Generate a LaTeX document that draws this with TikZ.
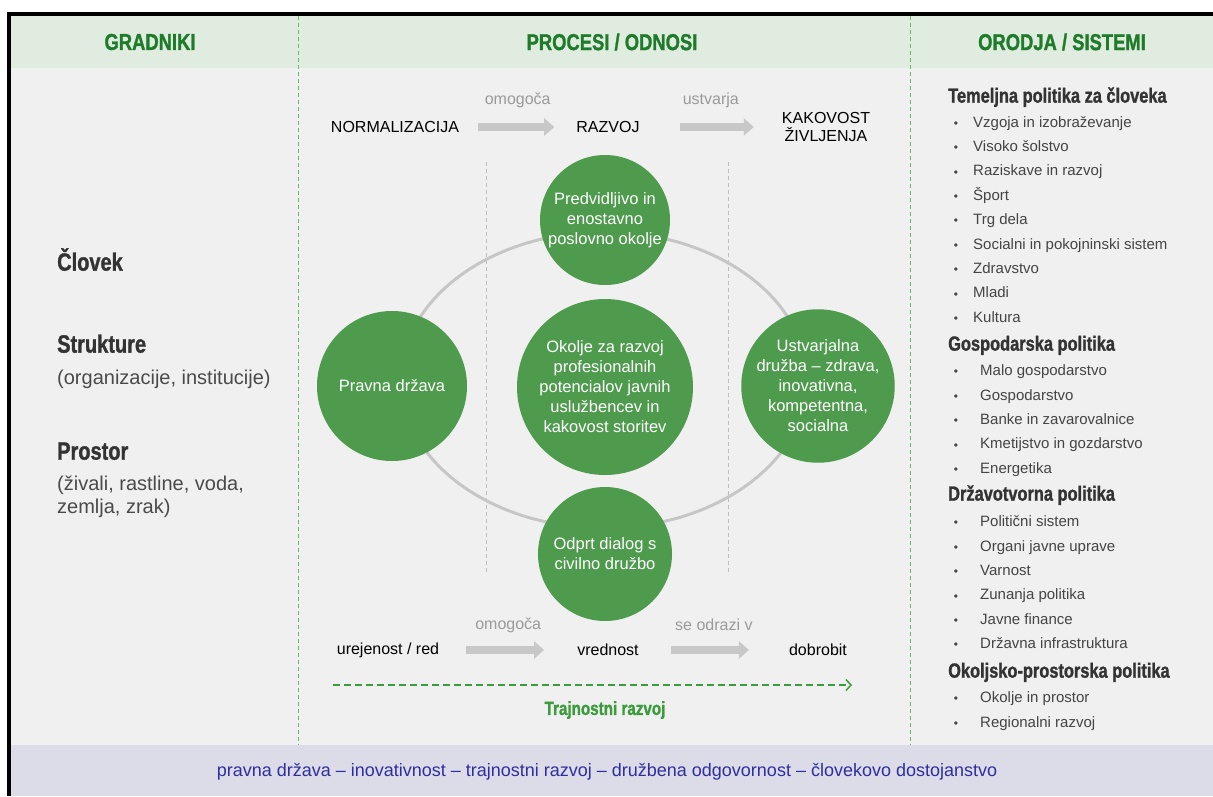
\documentclass[tikz,border=0pt]{standalone}
\usepackage{fontspec}
\setmainfont{Liberation Sans}
\newfontfamily\heavyfont{Liberation Sans Bold}[FakeStretch=0.8,FakeBold=1.2]
\usepackage{tikz}
\usetikzlibrary{arrows.meta,positioning}

\definecolor{hdgreen}{HTML}{1E7B2A}
\definecolor{bandgreen}{HTML}{E1ECE0}
\definecolor{bodygray}{HTML}{F0F0F0}
\definecolor{footband}{HTML}{DCDCE9}
\definecolor{colline}{HTML}{6DB56D}
\definecolor{innergray}{HTML}{BDBDBD}
\definecolor{ringgray}{HTML}{C6C6C6}
\definecolor{bubblegreen}{HTML}{4E9B4E}
\definecolor{arrowgray}{HTML}{C8C8C8}
\definecolor{labelgray}{HTML}{9A9A9A}
\definecolor{darktext}{HTML}{333333}
\definecolor{desctext}{HTML}{4A4A4A}
\definecolor{itemgray}{HTML}{444444}
\definecolor{mottoblue}{HTML}{2E2E9E}
\definecolor{trendgreen}{HTML}{3C9B3C}

\begin{document}
\begin{tikzpicture}[x=1pt,y=-1pt,
	colhead/.style={font=\heavyfont\fontsize{23}{25}\selectfont,text=hdgreen},
	blockhead/.style={font=\heavyfont\fontsize{25}{27}\selectfont,text=darktext,anchor=mid west,inner sep=0},
	blocktext/.style={font=\fontsize{20}{23}\selectfont,text=desctext,anchor=mid west,inner sep=0,align=left},
	flowtext/.style={font=\fontsize{16}{17.5}\selectfont,text=black,inner sep=0},
	flowlabel/.style={font=\fontsize{16}{17}\selectfont,text=labelgray,inner sep=0},
	flowarrow/.style={draw=arrowgray,line width=8pt,-{Triangle[length=10pt,width=17pt]}},
	bubble/.style={circle,fill=bubblegreen,text=white,align=center,inner sep=0,font=\fontsize{16.5}{20}\selectfont},
	polhead/.style={font=\heavyfont\fontsize{20.5}{22}\selectfont,text=darktext,anchor=mid west,inner sep=0},
	politem/.style={font=\fontsize{15}{16}\selectfont,text=itemgray,anchor=mid west,inner sep=0},
	polbullet/.style={font=\fontsize{12}{14}\selectfont,text=itemgray,inner sep=0},
	coldash/.style={draw=colline,line width=0.8pt,dash pattern=on 4pt off 3pt},
	innerdash/.style={draw=innergray,line width=0.8pt,dash pattern=on 4pt off 3pt},
	trendarrow/.style={draw=trendgreen,line width=1.5pt,dash pattern=on 7pt off 4pt,-{Straight Barb[length=5pt,width=11pt]}}]

	\useasboundingbox[fill=white] (0,0) rectangle (1213,796);

	\fill[bodygray] (9,14) rectangle (1213,796);
	\fill[bandgreen] (9,14) rectangle (1213,68);
	\fill[footband] (9,745) rectangle (1213,796);
	\draw[line width=4pt] (9,796) -- (9,14) -- (1213,14);

	\draw[coldash] (298,16) -- (298,745);
	\draw[coldash] (910,16) -- (910,745);

	\node[colhead] (hgrad) at (150,42) {GRADNIKI};
	\node[colhead] (hproc) at (612,42) {PROCESI / ODNOSI};
	\node[colhead] (horod) at (1062,42) {ORODJA / SISTEMI};

	\node[blockhead] (clovek) at (57,268) {Človek};
	\node[blockhead] (strukture) at (57,350) {Strukture};
	\node[blocktext] (strukdesc) at (57,382) {(organizacije, institucije)};
	\node[blockhead] (prostor) at (57,457) {Prostor};
	\node[blocktext,anchor=west] (prostordesc) at (57,497) {(živali, rastline, voda,\\zemlja, zrak)};

	\node[flowtext] (norm) at (395,127) {NORMALIZACIJA};
	\node[flowtext] (razvoj) at (608,127) {RAZVOJ};
	\node[flowtext,align=center] (kakovost) at (826,127) {KAKOVOST\\ŽIVLJENJA};
	\draw[flowarrow,shorten <=19pt,shorten >=22pt] (norm) -- (razvoj) node[flowlabel,midway,yshift=27pt] (lblomog) {omogoča};
	\draw[flowarrow,shorten <=40pt,shorten >=28pt] (razvoj) -- (kakovost) node[flowlabel,midway,yshift=27pt] (lblustv) {ustvarja};

	\draw[innerdash] (486,162) -- (486,575);
	\draw[innerdash] (728,162) -- (728,575);

	\draw[ringgray,line width=3pt] (604,380) ellipse [x radius=203,y radius=148];

	\node[bubble,minimum size=130pt] (okolje) at (605,220) {Predvidljivo in\\enostavno\\poslovno okolje};
	\node[bubble,minimum size=150pt] (pravna) at (392,386) {Pravna država};
	\node[bubble,minimum size=176pt] (razvojkadrov) at (605,387) {Okolje za razvoj\\profesionalnih\\potencialov javnih\\uslužbencev in\\kakovost storitev};
	\node[bubble,minimum size=148pt] (druzba) at (818,386) {Ustvarjalna\\družba -- zdrava,\\inovativna,\\kompetentna,\\socialna};
	\node[bubble,minimum size=134pt] (dialog) at (605,554) {Odprt dialog s\\civilno družbo};

	\node[flowtext] (red) at (388,650) {urejenost / red};
	\node[flowtext] (vrednost) at (608,650) {vrednost};
	\node[flowtext] (dobrobit) at (818,650) {dobrobit};
	\draw[flowarrow,shorten <=27pt,shorten >=33pt] (red) -- (vrednost) node[flowlabel,midway,yshift=25pt] (lblomog2) {omogoča};
	\draw[flowarrow,shorten <=32pt,shorten >=40pt] (vrednost) -- (dobrobit) node[flowlabel,midway,yshift=25pt] (lblodraz) {se odrazi v};

	\coordinate (trendstart) at (333,685);
	\coordinate (trendend) at (852,685);
	\draw[trendarrow] (trendstart) -- (trendend);
	\node[font=\heavyfont\fontsize{19}{21}\selectfont,text=trendgreen] (trajn) at (605,710) {Trajnostni razvoj};

	\node[polhead] (temeljna) at (948,100) {Temeljna politika za človeka};
	\foreach \item [count=\i] in {Vzgoja in izobraževanje,Visoko šolstvo,Raziskave in razvoj,Šport,Trg dela,Socialni in pokojninski sistem,Zdravstvo,Mladi,Kultura}{
		\node[polbullet] (tembul\i) at (956,100+24.4*\i) {•};
		\node[politem] (tem\i) at (973,100+24.4*\i) {\item};
	}

	\node[polhead] (gospodarska) at (948,348) {Gospodarska politika};
	\foreach \item [count=\i] in {Malo gospodarstvo,Gospodarstvo,Banke in zavarovalnice,Kmetijstvo in gozdarstvo,Energetika}{
		\node[polbullet] (gosbul\i) at (956,348.6+24.4*\i) {•};
		\node[politem] (gos\i) at (980,348.6+24.4*\i) {\item};
	}

	\node[polhead] (drzavotvorna) at (948,498) {Državotvorna politika};
	\foreach \item [count=\i] in {Politični sistem,Organi javne uprave,Varnost,Zunanja politika,Javne finance,Državna infrastruktura}{
		\node[polbullet] (drzbul\i) at (956,499.6+24.4*\i) {•};
		\node[politem] (drz\i) at (980,499.6+24.4*\i) {\item};
	}

	\node[polhead] (okoljska) at (948,675) {Okoljsko-prostorska politika};
	\foreach \item [count=\i] in {Okolje in prostor,Regionalni razvoj}{
		\node[polbullet] (okobul\i) at (956,675+25*\i) {•};
		\node[politem] (oko\i) at (980,675+25*\i) {\item};
	}

	\node[font=\fontsize{18}{20}\selectfont,text=mottoblue] (motto) at (607,772) {pravna država -- inovativnost -- trajnostni razvoj -- družbena odgovornost -- človekovo dostojanstvo};

\end{tikzpicture}
\end{document}
